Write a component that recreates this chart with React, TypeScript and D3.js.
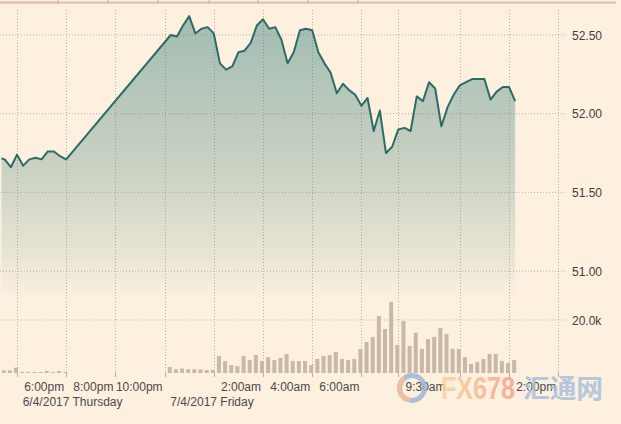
import * as d3 from 'd3';

const W = 621;
const H = 424;

// 15-minute closes, Thursday evening session then overnight/Friday session
const session1Start = '2017-04-06T15:15';
const session1Close = [51.72, 51.71, 51.66, 51.74, 51.67, 51.71, 51.72, 51.71, 51.76, 51.76, 51.73, 51.71];
const session1Volume = [0.4, 1.0, 1.0, 2.0, 0.4, 0.4, 0.4, 0.4, 0.8, 0.4, 0.8, 0.4];

const session2Start = '2017-04-06T22:15';
const session2Close = [
  52.50, 52.49, 52.56, 52.62, 52.51, 52.54, 52.55, 52.51, 52.32, 52.28,
  52.30, 52.39, 52.40, 52.45, 52.56, 52.60, 52.54, 52.55, 52.47, 52.32,
  52.39, 52.53, 52.54, 52.53, 52.39, 52.32, 52.26, 52.13, 52.19, 52.15,
  52.12, 52.05, 52.10, 51.89, 52.02, 51.75, 51.79, 51.90, 51.91, 51.89,
  52.11, 52.08, 52.20, 52.16, 51.92, 52.04, 52.12, 52.18, 52.20, 52.22,
  52.22, 52.22, 52.09, 52.14, 52.17, 52.17, 52.08,
];
const session2Volume = [
  2.3, 1.4, 1.7, 1.4, 1.4, 1.4, 1.1, 1.1, 6.4, 4.5,
  3.0, 2.6, 6.4, 4.9, 6.8, 4.5, 6.0, 4.9, 5.7, 7.2,
  4.5, 4.5, 4.5, 3.0, 5.3, 6.4, 6.8, 7.9, 5.3, 4.9,
  5.3, 9.1, 11.7, 13.6, 21.5, 16.6, 26.8, 10.6, 19.6, 10.2,
  15.2, 9.1, 12.8, 13.6, 17.0, 14.7, 9.1, 9.1, 6.0, 3.4,
  4.1, 5.3, 7.2, 7.2, 4.5, 3.8, 4.9,
];

const priceTicks = [51.0, 51.5, 52.0, 52.5];
const volumeTicks = [20];

const gridTimes = [
  '2017-04-06T16:00', '2017-04-06T18:00', '2017-04-06T20:00', '2017-04-06T22:00',
  '2017-04-07T00:00', '2017-04-07T02:00', '2017-04-07T04:00', '2017-04-07T06:00',
  '2017-04-07T07:30', '2017-04-07T10:00', '2017-04-07T12:00', '2017-04-07T14:00',
];
const labelTimes = [
  '2017-04-06T18:00', '2017-04-06T20:00', '2017-04-06T22:00', '2017-04-07T02:00',
  '2017-04-07T04:00', '2017-04-07T06:00', '2017-04-07T09:30', '2017-04-07T14:00',
];
const labelTexts = ['6:00pm', '8:00pm', '10:00pm', '2:00am', '4:00am', '6:00am', '9:30am', '2:00pm'];
const dateTimes = ['2017-04-06T18:00', '2017-04-07T00:00'];
const dateTexts = ['6/4/2017 Thursday', '7/4/2017 Friday'];

const navTicks = [58, 108, 158, 209, 258, 308, 358];

const parse = d3.timeParse('%Y-%m-%dT%H:%M');

type Pt = { t: Date; v: number; vol: number };

function build(start: string, close: number[], vol: number[]): Pt[] {
  const t0 = parse(start) as Date;
  return close.map((v, i) => ({ t: d3.timeMinute.offset(t0, i * 15), v, vol: vol[i] }));
}

const data: Pt[] = [
  ...build(session1Start, session1Close, session1Volume),
  ...build(session2Start, session2Close, session2Volume),
];

const BG = '#fdf0df';
const FONT = '"Liberation Sans", Arial, sans-serif';

export default function App() {
  const x = d3.scaleTime()
    .domain([parse('2017-04-06T16:00') as Date, parse('2017-04-07T14:00') as Date])
    .range([17, 558.2]);
  const y = d3.scaleLinear().domain([51, 52.5]).range([271.1, 35]);
  const yv = d3.scaleLinear().domain([0, 20]).range([373, 320]);

  const line = d3.line<Pt>().x(d => x(d.t)).y(d => y(d.v));
  const area = d3.area<Pt>().x(d => x(d.t)).y0(yv(0)).y1(d => y(d.v));

  const gridColor = 'rgba(110,100,85,0.45)';

  return (
    <div style={{ position: 'fixed', left: 0, top: 0 }}>
      <svg width={W} height={H} style={{ display: 'block' }}>
        <defs>
          <linearGradient id="fill" gradientUnits="userSpaceOnUse" x1="0" y1="15" x2="0" y2="300">
            <stop offset="0" stopColor="#a1bcb1" />
            <stop offset="0.55" stopColor="#cbd2c4" />
            <stop offset="0.85" stopColor="#e9e5d5" />
            <stop offset="1" stopColor={BG} />
          </linearGradient>
          <linearGradient id="wm" x1="0" y1="0" x2="1" y2="0">
            <stop offset="0" stopColor="#fad597" />
            <stop offset="1" stopColor="#f4a08c" />
          </linearGradient>
          <clipPath id="plot">
            <rect x={1.5} y={0} width={W} height={H} />
          </clipPath>
        </defs>
        <rect width={W} height={H} fill={BG} />

        {/* navigator strip */}
        <rect x={0} y={1.5} width={616} height={2.2} fill="#d9c7b1" />
        <rect x={0} y={1.5} width={58} height={2.2} fill="#e6c3b2" />
        {navTicks.map(n => (
          <line key={n} x1={n} x2={n} y1={0} y2={3.5} stroke="#c4b09a" strokeWidth={1} />
        ))}

        <g clipPath="url(#plot)">
          <path d={area(data) ?? ''} fill="url(#fill)" />
        </g>

        {/* grid */}
        {priceTicks.map(p => (
          <line key={p} x1={0} x2={567} y1={y(p)} y2={y(p)} stroke={gridColor} strokeDasharray="1,2" />
        ))}
        {volumeTicks.map(v => (
          <line key={v} x1={0} x2={567} y1={yv(v)} y2={yv(v)} stroke={gridColor} strokeDasharray="1,2" />
        ))}
        {gridTimes.map(g => {
          const gx = Math.round(x(parse(g) as Date)) + 0.5;
          return (
            <g key={g}>
              <line x1={gx} x2={gx} y1={10} y2={372} stroke={gridColor} strokeDasharray="1,2" />
              <line x1={gx} x2={gx} y1={372} y2={377} stroke="#b9ad9d" />
            </g>
          );
        })}

        {/* volume */}
        <g clipPath="url(#plot)">
          {data.map(d => (
            <rect
              key={+d.t}
              x={x(d.t) - 3}
              width={4}
              y={yv(d.vol)}
              height={yv(0) - yv(d.vol)}
              fill="#c9b8a7"
            />
          ))}
          <path d={line(data) ?? ''} fill="none" stroke="#2c6c67" strokeWidth={2} strokeLinejoin="round" />
        </g>

        {/* y labels */}
        <g fontFamily={FONT} fontSize={12} fill="#3f3f3f">
          {priceTicks.map(p => (
            <text key={p} x={572} y={y(p) + 4.5}>{p.toFixed(2)}</text>
          ))}
          {volumeTicks.map(v => (
            <text key={v} x={572} y={yv(v) + 4.5}>{v.toFixed(1)}k</text>
          ))}
        </g>

        {/* x labels */}
        <g fontFamily={FONT} fontSize={12} fill="#4a4a4a">
          {labelTimes.map((t, i) => (
            <text key={t} x={x(parse(t) as Date) - 2} y={391} textAnchor="end">{labelTexts[i]}</text>
          ))}
          {dateTimes.map((t, i) => (
            <text key={t} x={x(parse(t) as Date) - 43.5} y={406}>{dateTexts[i]}</text>
          ))}
        </g>

        {/* watermark */}
        <g opacity={0.85}>
          <circle cx={412} cy={388} r={12.5} fill="none" stroke="#9fb7d8" strokeWidth={5} />
          <path d="M 404 378 A 12.5 12.5 0 0 0 410 400" fill="none" stroke="#f3b58c" strokeWidth={4} />
          <text x={441} y={399} fontFamily={FONT} fontWeight="bold" fontSize={31} fill="url(#wm)"
            textLength={74} lengthAdjust="spacingAndGlyphs">FX678</text>
          <text x={523} y={398} fontFamily='"Noto Sans CJK SC", sans-serif' fontWeight="bold" fontSize={26}
            fill="#a9c1da" textLength={80} lengthAdjust="spacingAndGlyphs">汇通网</text>
        </g>
      </svg>
    </div>
  );
}
